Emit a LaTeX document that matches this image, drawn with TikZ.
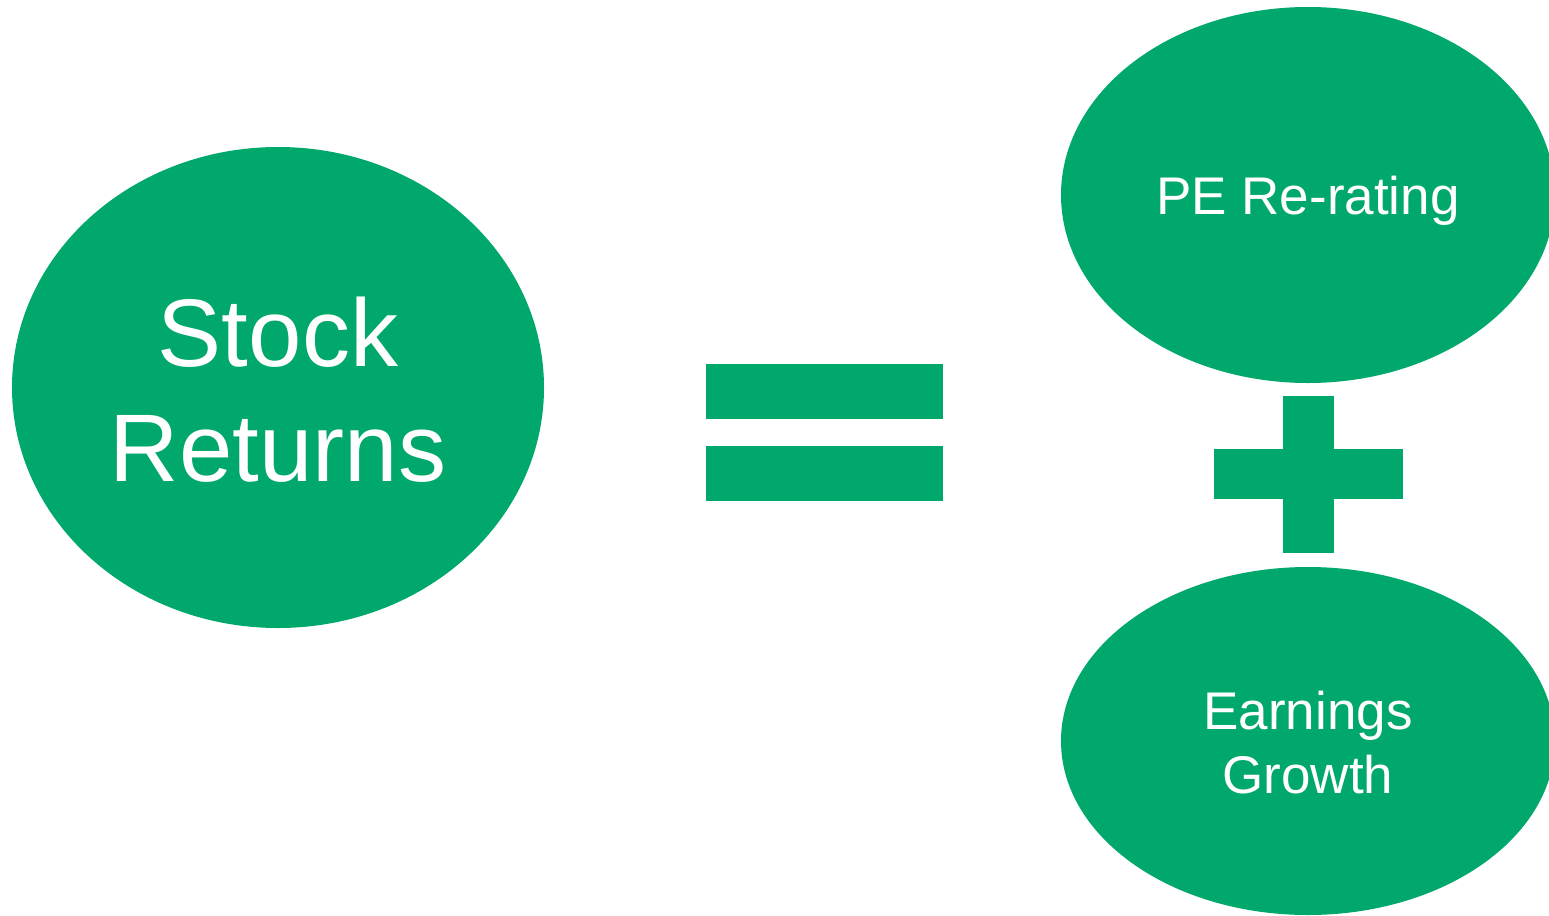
\documentclass[tikz,border=0pt]{standalone}
\usepackage{fontspec}
\setmainfont{Liberation Sans}
\usetikzlibrary{shapes.geometric}
\definecolor{leaf}{HTML}{00A86C}
\begin{document}
\begin{tikzpicture}[x=0.5pt,y=-0.5pt,
  blob/.style={ellipse,fill=leaf,draw=none,inner sep=0pt},
  txt/.style={text=white,align=center,inner sep=0pt},
  bigtext/.style={font=\fontsize{48}{57.5}\selectfont},
  smalltext/.style={font=\fontsize{26.5}{32}\selectfont}]
\useasboundingbox (0,0) rectangle (1549,916);
\clip (0,0) rectangle (1549,916);
\node[blob,minimum width=266pt,minimum height=240.5pt] (sr) at (278,387.5) {};
\node[blob,minimum width=247pt,minimum height=188pt] (pe) at (1308,195) {};
\node[blob,minimum width=247pt,minimum height=174pt] (eg) at (1308,741) {};
\node[txt,bigtext] (srt) at ([yshift=-1pt]sr.center) {Stock\\Returns};
\node[txt,smalltext] (pet) at ([yshift=-3pt]pe.center) {PE Re-rating};
\node[txt,smalltext] (egt) at ([yshift=-1pt]eg.center) {Earnings\\Growth};
% equals sign
\fill[leaf] (706,364) rectangle (943,419);
\fill[leaf] (706,446) rectangle (943,501);
% plus sign
\fill[leaf] (1283,396) rectangle (1334,553);
\fill[leaf] (1214,449) rectangle (1403,499);
\end{tikzpicture}
\end{document}
